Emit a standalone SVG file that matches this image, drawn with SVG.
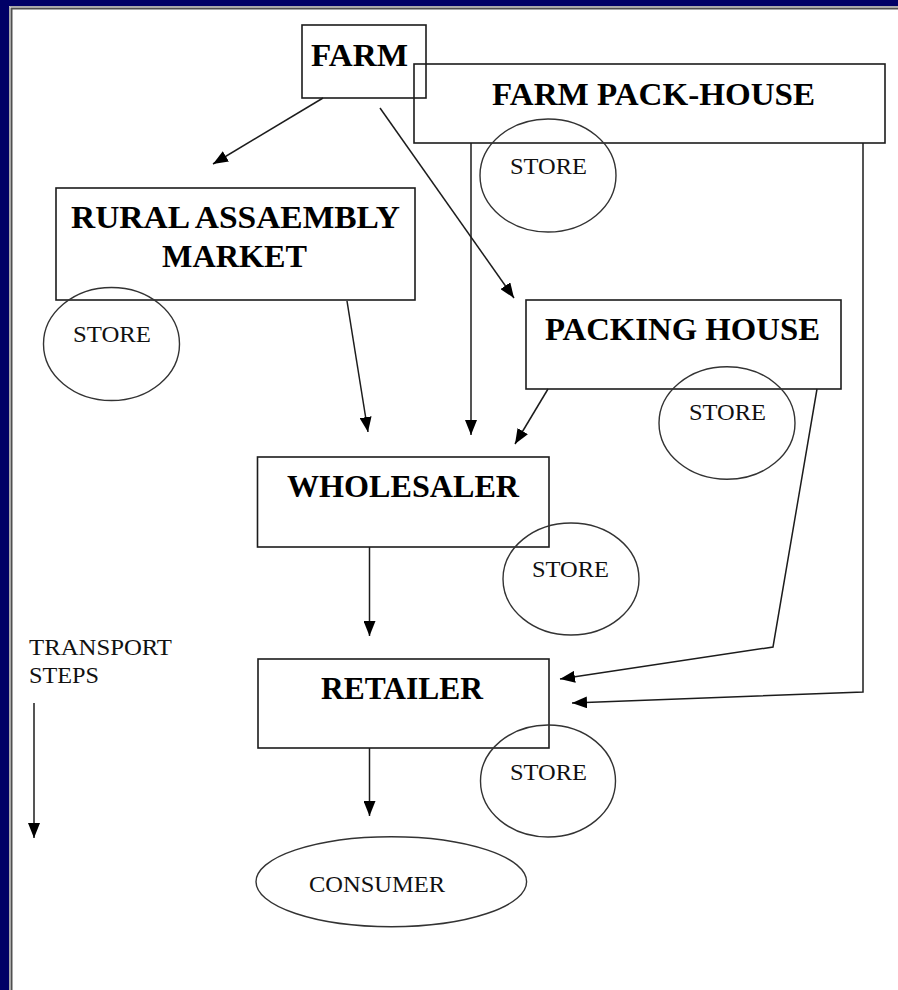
<svg xmlns="http://www.w3.org/2000/svg" width="898" height="990" viewBox="0 0 898 990">
<style>
.box{fill:none;stroke:#1c1c1c;stroke-width:1.6}
.store{fill:none;stroke:#333;stroke-width:1.4}
.bold{font-family:"Liberation Serif","Times New Roman",serif;font-weight:bold;font-size:32px;fill:#000}
.reg{font-family:"Liberation Serif","Times New Roman",serif;font-size:24px;fill:#111}
.conn{fill:none;stroke:#1c1c1c;stroke-width:1.5}
.arr{marker-end:url(#ah)}
</style>
<defs>
<marker id="ah" markerUnits="userSpaceOnUse" markerWidth="16" markerHeight="12" refX="15" refY="6" orient="auto">
<path d="M0,0 L15,6 L0,12 z" fill="#000"/>
</marker>
</defs>
<rect x="0" y="0" width="898" height="990" fill="#000066"/>
<rect x="9" y="6" width="889" height="984" fill="#fff"/>
<path d="M9.5,990 V6.5 H898" fill="none" stroke="#aaa" stroke-width="1"/>
<path d="M11.5,990 V8.5 H898" fill="none" stroke="#505050" stroke-width="2"/>

<g id="connectors">
<line class="conn arr" x1="323" y1="98" x2="213" y2="164"/>
<line class="conn arr" x1="380" y1="108" x2="514" y2="298"/>
<line class="conn arr" x1="347" y1="301" x2="368" y2="432"/>
<line class="conn arr" x1="471" y1="143" x2="471" y2="435"/>
<line class="conn arr" x1="548" y1="389" x2="515" y2="444"/>
<line class="conn arr" x1="369.5" y1="547" x2="369.5" y2="636"/>
<polyline class="conn arr" points="817,389 773,647 560,679"/>
<polyline class="conn arr" points="863,143 863,692 572,703"/>
<line class="conn arr" x1="369.5" y1="748" x2="369.5" y2="816"/>
<line class="conn arr" x1="34" y1="703" x2="34" y2="838"/>
</g>

<g id="farm">
<rect class="box" x="302" y="25" width="124" height="73"/>
<text class="bold" x="311" y="66" textLength="97" lengthAdjust="spacingAndGlyphs">FARM</text>
</g>

<g id="farm-pack-house">
<rect class="box" x="414" y="64" width="471" height="79"/>
<text class="bold" x="492" y="105" textLength="323" lengthAdjust="spacingAndGlyphs">FARM PACK-HOUSE</text>
</g>

<g id="store-farm-pack-house">
<ellipse class="store" cx="548" cy="175.5" rx="68" ry="56.5"/>
<text class="reg" x="510" y="174" textLength="77" lengthAdjust="spacingAndGlyphs">STORE</text>
</g>

<g id="rural-assembly-market">
<rect class="box" x="56" y="188" width="359" height="112"/>
<text class="bold" x="71" y="228" textLength="329" lengthAdjust="spacingAndGlyphs">RURAL ASSAEMBLY</text>
<text class="bold" x="162" y="267" textLength="145" lengthAdjust="spacingAndGlyphs">MARKET</text>
</g>

<g id="store-rural">
<ellipse class="store" cx="111.5" cy="344" rx="68" ry="56.5"/>
<text class="reg" x="73" y="342" textLength="78" lengthAdjust="spacingAndGlyphs">STORE</text>
</g>

<g id="packing-house">
<rect class="box" x="526" y="300" width="315" height="89"/>
<text class="bold" x="545" y="340" textLength="275" lengthAdjust="spacingAndGlyphs">PACKING HOUSE</text>
</g>

<g id="store-packing-house">
<ellipse class="store" cx="727" cy="423" rx="68" ry="56.3"/>
<text class="reg" x="689" y="420" textLength="77" lengthAdjust="spacingAndGlyphs">STORE</text>
</g>

<g id="wholesaler">
<rect class="box" x="257.5" y="457" width="291.5" height="90"/>
<text class="bold" x="287" y="497" textLength="232" lengthAdjust="spacingAndGlyphs">WHOLESALER</text>
</g>

<g id="store-wholesaler">
<ellipse class="store" cx="571" cy="579" rx="68" ry="56"/>
<text class="reg" x="532" y="577" textLength="77" lengthAdjust="spacingAndGlyphs">STORE</text>
</g>

<g id="retailer">
<rect class="box" x="258" y="659" width="291" height="89"/>
<text class="bold" x="321" y="698.5" textLength="162" lengthAdjust="spacingAndGlyphs">RETAILER</text>
</g>

<g id="store-retailer">
<ellipse class="store" cx="548" cy="781" rx="67.5" ry="56"/>
<text class="reg" x="510" y="779.5" textLength="77" lengthAdjust="spacingAndGlyphs">STORE</text>
</g>

<g id="consumer">
<ellipse class="store" cx="391.3" cy="881.7" rx="135.3" ry="45"/>
<text class="reg" x="309" y="891.5" textLength="136" lengthAdjust="spacingAndGlyphs">CONSUMER</text>
</g>

<g id="transport-steps">
<text class="reg" x="29" y="655" textLength="143" lengthAdjust="spacingAndGlyphs">TRANSPORT</text>
<text class="reg" x="29" y="683" textLength="70" lengthAdjust="spacingAndGlyphs">STEPS</text>
</g>
</svg>
